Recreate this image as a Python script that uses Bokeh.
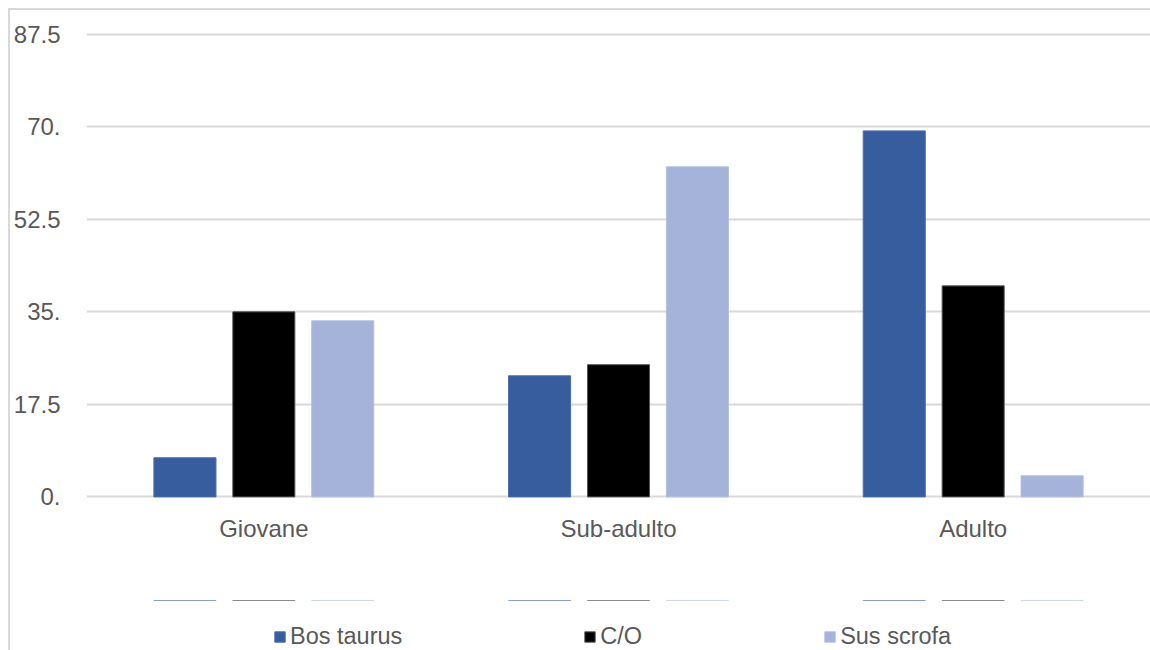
from bokeh.plotting import figure
from bokeh.layouts import column
from bokeh.models import (ColumnDataSource, FactorRange, Range1d, FixedTicker,
                          Legend, LegendItem)
from bokeh.transform import dodge
from bokeh.embed import file_html
from bokeh.resources import INLINE

categories = ["Giovane", "Sub-adulto", "Adulto"]
series_names = ["Bos taurus", "C/O", "Sus scrofa"]
bos_taurus = [7.4, 22.9, 69.2]
c_o = [35.0, 25.0, 39.9]
sus_scrofa = [33.3, 62.4, 4.0]
y_ticks = [0, 17.5, 35, 52.5, 70, 87.5]
y_tick_labels = ["0.", "17.5", "35.", "52.5", "70.", "87.5"]

colors = ["#385D9F", "#000000", "#A5B3DA"]
outlines = ["#4A6DAA", "#595959", "#B4C0E0"]
FONT = "Liberation Sans"
TXT = "#595959"

source = ColumnDataSource(dict(cat=categories, bos=bos_taurus, co=c_o, sus=sus_scrofa))
fields = ["bos", "co", "sus"]
bw = 0.175
off = 0.2225
offsets = [-off, 0, off]

# ---- main chart ----
p = figure(width=1140, height=590, x_range=FactorRange(*categories),
           y_range=Range1d(-0.3, 87.8), output_backend="svg", toolbar_location=None,
           min_border_left=75, min_border_right=0, min_border_top=22,
           min_border_bottom=102)
p.outline_line_color = None
p.background_fill_color = "white"
p.border_fill_color = "white"
p.x_range.range_padding = 0

for f, o, fc, lc in zip(fields, offsets, colors, outlines):
    p.vbar(x=dodge("cat", o, range=p.x_range), top=f, width=bw, source=source,
           fill_color=fc, line_color=lc, line_width=1)

p.yaxis.ticker = FixedTicker(ticks=y_ticks)
p.yaxis.major_label_overrides = {t: l for t, l in zip(y_ticks, y_tick_labels)}
for ax in (p.xaxis[0], p.yaxis[0]):
    ax.axis_line_color = None
    ax.major_tick_line_color = None
    ax.minor_tick_line_color = None
    ax.major_label_text_font = FONT
    ax.major_label_text_font_size = "24px"
    ax.major_label_text_color = TXT
p.yaxis.major_label_standoff = 20
p.xaxis.major_label_standoff = 10

p.xgrid.grid_line_color = None
p.ygrid.grid_line_color = "#D9D9D9"
p.ygrid.grid_line_width = 2
p.ygrid.ticker = FixedTicker(ticks=y_ticks)

# ---- legend strip (series renderers kept far outside its visible range) ----
leg = figure(width=1140, height=50, x_range=p.x_range, y_range=Range1d(-1000, -999),
             output_backend="svg", toolbar_location=None,
             x_axis_location=None, y_axis_location=None,
             min_border_left=0, min_border_right=0, min_border_top=0,
             min_border_bottom=0)
leg.outline_line_color = None
leg.xgrid.visible = False
leg.ygrid.visible = False
leg.background_fill_color = "white"
leg.border_fill_color = "white"

items = []
for name, f, o, fc, lc in zip(series_names, fields, offsets, colors, outlines):
    rr = leg.vbar(x=dodge("cat", o, range=p.x_range), top=f, width=bw, source=source,
                  fill_color=fc, line_color=lc, line_width=1)
    items.append(LegendItem(label=name, renderers=[rr]))

legend = Legend(items=items, orientation="horizontal", location=(187, 0),
                glyph_width=13, glyph_height=13, label_standoff=4, spacing=181,
                padding=0, margin=0, border_line_color=None,
                background_fill_alpha=0,
                label_text_font=FONT, label_text_font_size="23.5px",
                label_text_color=TXT)
leg.add_layout(legend, "center")

layout = column(p, leg, spacing=0)
layout.margin = (8, 0, 0, 8)
layout.styles = {"border-left": "2px solid #D9D9D9", "border-top": "2px solid #D9D9D9"}

open("out.html", "w").write(file_html(layout, INLINE))
